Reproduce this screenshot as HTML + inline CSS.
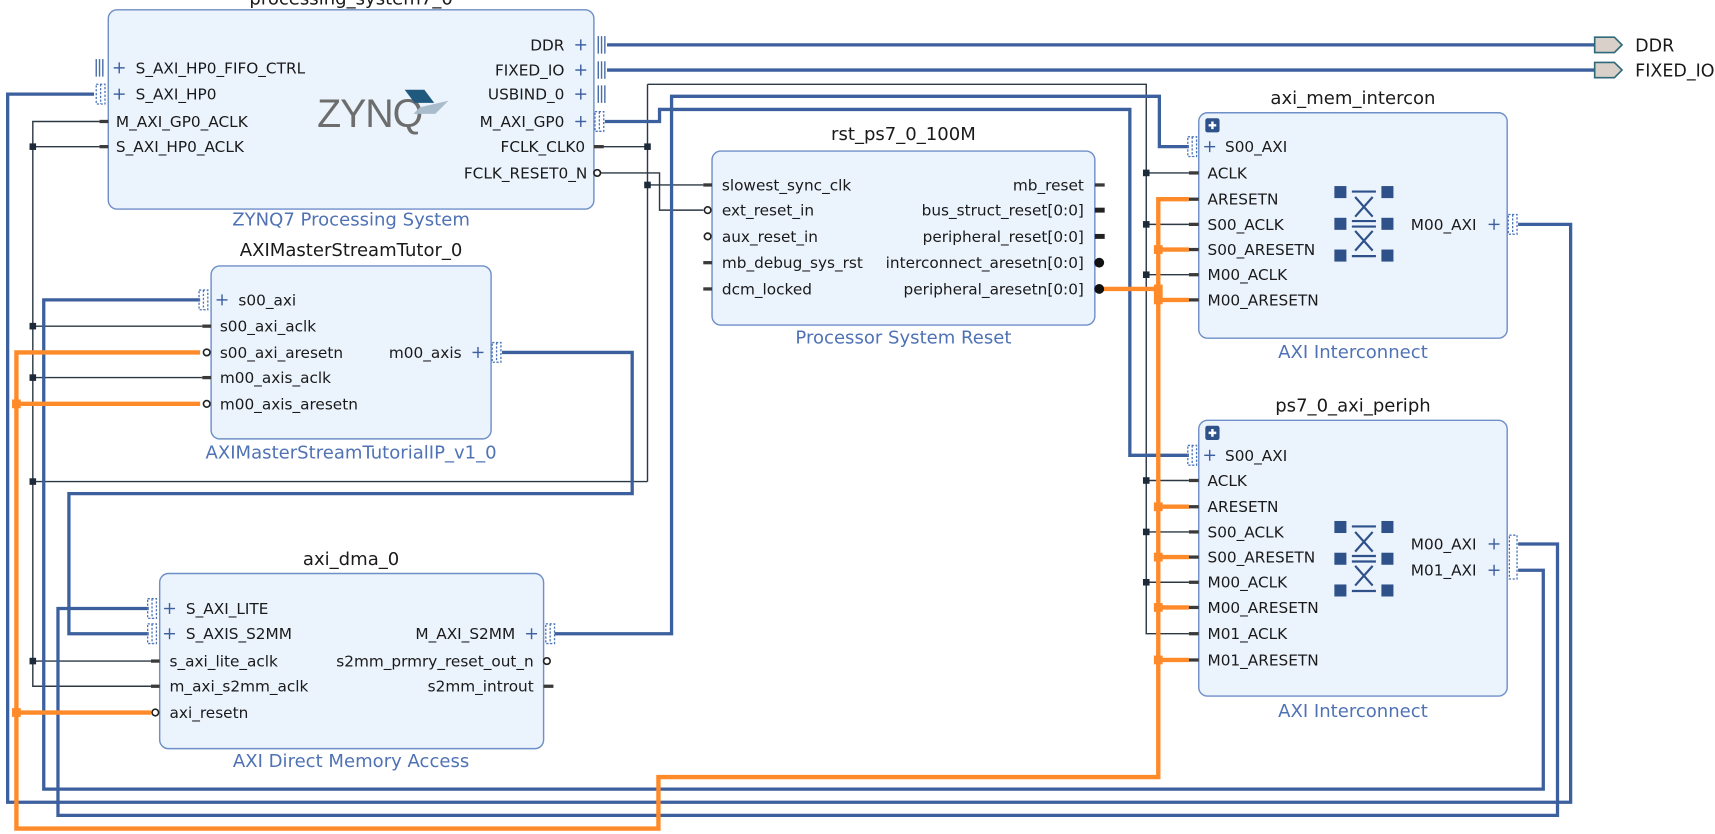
<!DOCTYPE html>
<html><head><meta charset="utf-8"><style>
html,body{margin:0;padding:0;background:#fff;}
svg{display:block;}
text{font-family:"DejaVu Sans","Liberation Sans",sans-serif;font-size:14px;fill:#1a1a1a;}
.t{font-size:16.5px;text-anchor:middle;}
.s{font-size:16.5px;text-anchor:middle;fill:#4f72b5;}
.e{text-anchor:end;}
.box{fill:#ebf3fd;stroke:#6f8fc8;stroke-width:1.3;}
.bl{fill:none;stroke:#3c5f9e;stroke-width:3;}
.or{fill:none;stroke:#ff8a2a;stroke-width:4;}
.bk{fill:none;stroke:#2c3844;stroke-width:1.3;}
.pin{stroke:#3a3a3a;stroke-width:3;}
.plus{stroke:#3c5f9e;stroke-width:1.3;}
.bus{fill:none;stroke:#4a74b8;stroke-width:1.2;stroke-dasharray:2 1.5;}
.tri{stroke:#4a6eaa;stroke-width:1.3;}
.j{fill:#1d2a3a;}
.jo{fill:#ff8a2a;}
.xb{fill:#2f518a;}
</style></head><body>
<svg width="1715" height="834" viewBox="0 0 1568 762" preserveAspectRatio="none" xmlns="http://www.w3.org/2000/svg">
<defs>
<g id="plus"><line x1="-5" y1="0" x2="5" y2="0" class="plus"/><line x1="0" y1="-5" x2="0" y2="5" class="plus"/></g>
<g id="busl"><rect x="-5" y="-9" width="8" height="18" class="bus"/><line x1="-1" y1="-9" x2="-1" y2="9" class="bus"/></g>
<g id="tri"><line x1="0" y1="-8" x2="0" y2="8" class="tri"/><line x1="3" y1="-8" x2="3" y2="8" class="tri"/><line x1="6" y1="-8" x2="6" y2="8" class="tri"/></g>
<g id="xbar">
<rect x="0" y="-5" width="11" height="11" class="xb"/><rect x="43" y="-5" width="11" height="11" class="xb"/>
<rect x="0" y="24" width="11" height="11" class="xb"/><rect x="43" y="24" width="11" height="11" class="xb"/>
<rect x="0" y="53" width="11" height="11" class="xb"/><rect x="43" y="53" width="11" height="11" class="xb"/>
<line x1="16" y1="0" x2="38" y2="0" stroke="#2f518a" stroke-width="2"/>
<line x1="16" y1="27" x2="38" y2="27" stroke="#2f518a" stroke-width="2"/>
<line x1="16" y1="32" x2="38" y2="32" stroke="#2f518a" stroke-width="2"/>
<line x1="16" y1="59" x2="38" y2="59" stroke="#2f518a" stroke-width="2"/>
<path d="M19 5 L35 23 M35 5 L19 23 M19 36 L35 54 M35 36 L19 54" stroke="#2f518a" stroke-width="2"/>
</g>
<g id="ico"><rect x="0" y="0" width="13" height="13" rx="2" fill="#2f518a"/><path d="M6.5 3 V10 M3 6.5 H10" stroke="#fff" stroke-width="2.2"/></g>
</defs>

<path class="bk" d="M543 134 H592 M592 77 V440 M592 77 H1048 V579 H1087 M592 169 H643 M1048 158 H1087 M1048 205 H1087 M1048 251 H1087 M1048 439 H1087 M1048 486 H1087 M1048 532 H1087"/>
<path class="bk" d="M592 440 H30 M91 111 H30 V627 H138 M30 134 H91 M30 298 H185 M30 345 H185 M30 604 H138"/>
<path class="bk" d="M548 158 H603 V192 H643"/>
<path class="bl" d="M555 41 H1458 M555 64 H1458"/>
<path class="bl" d="M553 111 H603 V100 H1033 V416 H1087"/>
<path class="bl" d="M507 579 H614 V88 H1060 V134 H1087"/>
<path class="bl" d="M86 86 H7 V733 H1436 V205 H1388"/>
<path class="bl" d="M183 274 H40 V721 H1411 V521 H1388"/>
<path class="bl" d="M136 556 H53 V745 H1424 V497 H1388"/>
<path class="bl" d="M459 322 H578 V451 H63 V579 H136"/>
<path class="or" d="M1003 264 H1059 M1087 182 H1059 V710 H602 V757 H15 V322 H183 M15 369 H183 M15 651 H138"/>
<path class="or" d="M1059 228 H1087 M1059 274 H1087 M1059 463 H1087 M1059 509 H1087 M1059 555 H1087 M1059 603 H1087"/>

<g class="j">
<rect x="589" y="131" width="6" height="6"/><rect x="589" y="166" width="6" height="6"/>
<rect x="1045" y="155" width="6" height="6"/><rect x="1045" y="202" width="6" height="6"/><rect x="1045" y="248" width="6" height="6"/>
<rect x="1045" y="436" width="6" height="6"/><rect x="1045" y="483" width="6" height="6"/><rect x="1045" y="529" width="6" height="6"/>
<rect x="27" y="131" width="6" height="6"/><rect x="27" y="295" width="6" height="6"/><rect x="27" y="342" width="6" height="6"/>
<rect x="27" y="437" width="6" height="6"/><rect x="27" y="601" width="6" height="6"/>
</g>
<g class="jo">
<rect x="1055" y="224" width="8" height="8"/><rect x="1055" y="260" width="8" height="18"/>
<rect x="1055" y="459" width="8" height="8"/><rect x="1055" y="505" width="8" height="8"/><rect x="1055" y="551" width="8" height="8"/><rect x="1055" y="599" width="8" height="8"/>
<rect x="11" y="365" width="8" height="8"/><rect x="11" y="647" width="8" height="8"/>
</g>

<text class="t" x="321" y="4">processing_system7_0</text>
<rect class="box" x="99" y="9" width="444" height="182" rx="8"/>
<use href="#tri" x="88" y="62"/><use href="#busl" x="93" y="86"/>
<line class="pin" x1="91" y1="111" x2="99" y2="111"/><line class="pin" x1="91" y1="134" x2="99" y2="134"/>
<use href="#plus" x="109" y="62"/><text x="124" y="67">S_AXI_HP0_FIFO_CTRL</text>
<use href="#plus" x="109" y="86"/><text x="124" y="91">S_AXI_HP0</text>
<text x="106" y="116">M_AXI_GP0_ACLK</text>
<text x="106" y="139">S_AXI_HP0_ACLK</text>
<text x="290" y="116" style="font-size:36px;fill:#6d6d6d;font-family:'Liberation Sans',sans-serif;letter-spacing:-1px">ZYNQ</text>
<path d="M370 82 L388 82 L397 94 L379 94 Z" fill="#1f5a7e"/><path d="M384 98 L410 92 L398 104 L378 104 Z" fill="#a9bccb"/>
<text class="e" x="516" y="46">DDR</text><use href="#plus" x="531" y="41"/><use href="#tri" x="547" y="41"/>
<text class="e" x="516" y="69">FIXED_IO</text><use href="#plus" x="531" y="64"/><use href="#tri" x="547" y="64"/>
<text class="e" x="516" y="91">USBIND_0</text><use href="#plus" x="531" y="86"/><use href="#tri" x="547" y="86"/>
<text class="e" x="516" y="116">M_AXI_GP0</text><use href="#plus" x="531" y="111"/><use href="#busl" x="549" y="111"/>
<text class="e" x="535" y="139">FCLK_CLK0</text><line class="pin" x1="543" y1="134" x2="552" y2="134"/>
<text class="e" x="537" y="163">FCLK_RESET0_N</text><circle cx="546" cy="158" r="3" fill="#fff" stroke="#222" stroke-width="1.5"/>
<text class="s" x="321" y="206">ZYNQ7 Processing System</text>

<text class="t" x="321" y="234">AXIMasterStreamTutor_0</text>
<rect class="box" x="193" y="243" width="256" height="158" rx="8"/>
<use href="#busl" x="187" y="274"/><use href="#plus" x="203" y="274"/><text x="218" y="279">s00_axi</text>
<line class="pin" x1="185" y1="298" x2="193" y2="298"/><text x="201" y="303">s00_axi_aclk</text>
<circle cx="189" cy="322" r="3" fill="#fff" stroke="#222" stroke-width="1.5"/><text x="201" y="327">s00_axi_aresetn</text>
<line class="pin" x1="185" y1="345" x2="193" y2="345"/><text x="201" y="350">m00_axis_aclk</text>
<circle cx="189" cy="369" r="3" fill="#fff" stroke="#222" stroke-width="1.5"/><text x="201" y="374">m00_axis_aresetn</text>
<text class="e" x="422" y="327">m00_axis</text><use href="#plus" x="437" y="322"/><use href="#busl" x="455" y="322"/>
<text class="s" x="321" y="419">AXIMasterStreamTutorialIP_v1_0</text>

<text class="t" x="321" y="516">axi_dma_0</text>
<rect class="box" x="146" y="524" width="351" height="160" rx="8"/>
<use href="#busl" x="140" y="556"/><use href="#plus" x="155" y="556"/><text x="170" y="561">S_AXI_LITE</text>
<use href="#busl" x="140" y="579"/><use href="#plus" x="155" y="579"/><text x="170" y="584">S_AXIS_S2MM</text>
<line class="pin" x1="138" y1="604" x2="146" y2="604"/><text x="155" y="609">s_axi_lite_aclk</text>
<line class="pin" x1="138" y1="627" x2="146" y2="627"/><text x="155" y="632">m_axi_s2mm_aclk</text>
<circle cx="142" cy="651" r="3" fill="#fff" stroke="#222" stroke-width="1.5"/><text x="155" y="656">axi_resetn</text>
<text class="e" x="471" y="584">M_AXI_S2MM</text><use href="#plus" x="486" y="579"/><use href="#busl" x="504" y="579"/>
<text class="e" x="488" y="609">s2mm_prmry_reset_out_n</text><circle cx="500" cy="604" r="3" fill="#fff" stroke="#222" stroke-width="1.5"/>
<text class="e" x="488" y="632">s2mm_introut</text><line class="pin" x1="497" y1="627" x2="506" y2="627"/>
<text class="s" x="321" y="701">AXI Direct Memory Access</text>

<text class="t" x="826" y="128">rst_ps7_0_100M</text>
<rect class="box" x="651" y="138" width="350" height="159" rx="8"/>
<line class="pin" x1="643" y1="169" x2="651" y2="169"/><text x="660" y="174">slowest_sync_clk</text>
<circle cx="647" cy="192" r="3" fill="#fff" stroke="#222" stroke-width="1.5"/><text x="660" y="197">ext_reset_in</text>
<circle cx="647" cy="216" r="3" fill="#fff" stroke="#222" stroke-width="1.5"/><text x="660" y="221">aux_reset_in</text>
<line class="pin" x1="643" y1="240" x2="651" y2="240"/><text x="660" y="245">mb_debug_sys_rst</text>
<line class="pin" x1="643" y1="264" x2="651" y2="264"/><text x="660" y="269">dcm_locked</text>
<text class="e" x="991" y="174">mb_reset</text><line class="pin" x1="1001" y1="169" x2="1010" y2="169"/>
<text class="e" x="991" y="197">bus_struct_reset[0:0]</text><line x1="1001" y1="192" x2="1010" y2="192" stroke="#222" stroke-width="4.5"/>
<text class="e" x="991" y="221">peripheral_reset[0:0]</text><line x1="1001" y1="216" x2="1010" y2="216" stroke="#222" stroke-width="4.5"/>
<text class="e" x="991" y="245">interconnect_aresetn[0:0]</text><circle cx="1005" cy="240" r="4.5" fill="#111"/>
<text class="e" x="991" y="269">peripheral_aresetn[0:0]</text><circle cx="1005" cy="264" r="4.5" fill="#111"/>
<text class="s" x="826" y="314">Processor System Reset</text>

<text class="t" x="1237" y="95">axi_mem_intercon</text>
<rect class="box" x="1096" y="103" width="282" height="206" rx="8"/>
<use href="#ico" x="1102" y="108"/>
<use href="#busl" x="1091" y="134"/><use href="#plus" x="1106" y="134"/><text x="1120" y="139">S00_AXI</text>
<line class="pin" x1="1087" y1="158" x2="1096" y2="158"/><text x="1104" y="163">ACLK</text>
<line class="pin" x1="1087" y1="182" x2="1096" y2="182"/><text x="1104" y="187">ARESETN</text>
<line class="pin" x1="1087" y1="205" x2="1096" y2="205"/><text x="1104" y="210">S00_ACLK</text>
<line class="pin" x1="1087" y1="228" x2="1096" y2="228"/><text x="1104" y="233">S00_ARESETN</text>
<line class="pin" x1="1087" y1="251" x2="1096" y2="251"/><text x="1104" y="256">M00_ACLK</text>
<line class="pin" x1="1087" y1="274" x2="1096" y2="274"/><text x="1104" y="279">M00_ARESETN</text>
<use href="#xbar" x="1220" y="175"/>
<text class="e" x="1350" y="210">M00_AXI</text><use href="#plus" x="1366" y="205"/><use href="#busl" x="1384" y="205"/>
<text class="s" x="1237" y="327">AXI Interconnect</text>

<text class="t" x="1237" y="376">ps7_0_axi_periph</text>
<rect class="box" x="1096" y="384" width="282" height="252" rx="8"/>
<use href="#ico" x="1102" y="389"/>
<use href="#busl" x="1091" y="416"/><use href="#plus" x="1106" y="416"/><text x="1120" y="421">S00_AXI</text>
<line class="pin" x1="1087" y1="439" x2="1096" y2="439"/><text x="1104" y="444">ACLK</text>
<line class="pin" x1="1087" y1="463" x2="1096" y2="463"/><text x="1104" y="468">ARESETN</text>
<line class="pin" x1="1087" y1="486" x2="1096" y2="486"/><text x="1104" y="491">S00_ACLK</text>
<line class="pin" x1="1087" y1="509" x2="1096" y2="509"/><text x="1104" y="514">S00_ARESETN</text>
<line class="pin" x1="1087" y1="532" x2="1096" y2="532"/><text x="1104" y="537">M00_ACLK</text>
<line class="pin" x1="1087" y1="555" x2="1096" y2="555"/><text x="1104" y="560">M00_ARESETN</text>
<line class="pin" x1="1087" y1="579" x2="1096" y2="579"/><text x="1104" y="584">M01_ACLK</text>
<line class="pin" x1="1087" y1="603" x2="1096" y2="603"/><text x="1104" y="608">M01_ARESETN</text>
<use href="#xbar" x="1220" y="481"/>
<text class="e" x="1350" y="502">M00_AXI</text><use href="#plus" x="1366" y="497"/>
<text class="e" x="1350" y="526">M01_AXI</text><use href="#plus" x="1366" y="521"/>
<rect x="1380" y="489" width="7" height="40" class="bus"/>
<text class="s" x="1237" y="655">AXI Interconnect</text>

<path d="M1458 34 L1476 34 L1483 41 L1476 48 L1458 48 Z" fill="#d9d0c9" stroke="#2f6a7a" stroke-width="1.5"/>
<path d="M1458 57 L1476 57 L1483 64 L1476 71 L1458 71 Z" fill="#d9d0c9" stroke="#2f6a7a" stroke-width="1.5"/>
<text x="1495" y="47" style="font-size:16px">DDR</text>
<text x="1495" y="70" style="font-size:16px">FIXED_IO</text>
</svg>
</body></html>
